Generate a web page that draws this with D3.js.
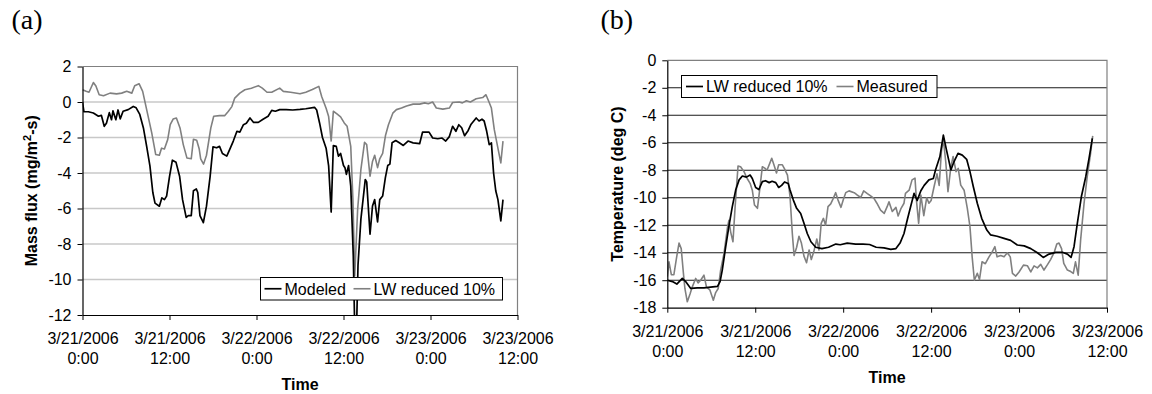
<!DOCTYPE html>
<html>
<head>
<meta charset="utf-8">
<script src="https://cdn.jsdelivr.net/npm/d3@7"></script>
<style>
  body { margin: 0; background: #fff; }
  svg { display: block; }
</style>
</head>
<body>
<svg id="chart" width="1152" height="394" font-family='"Liberation Sans", Arial, sans-serif'></svg>
<script>
// ---------- DATA ----------
// Hours since 3/21/2006 0:00
const tickHours = [0, 12, 24, 36, 48, 60];
const tickLabels = [
  ["3/21/2006", "0:00"], ["3/21/2006", "12:00"], ["3/22/2006", "0:00"],
  ["3/22/2006", "12:00"], ["3/23/2006", "0:00"], ["3/23/2006", "12:00"]
];
const fluxTicks = [-12, -10, -8, -6, -4, -2, 0, 2];
const tempTicks = [-18, -16, -14, -12, -10, -8, -6, -4, -2, 0];

// (a) Mass flux (mg/m2-s) — Modeled: [hour, value]
const modeledFlux = [[0,0],[0.2,-0.55],[0.8,-0.55],[1.5,-0.62],[2.2,-0.8],[2.6,-0.75],[3.0,-1.37],[3.3,-1.2],[3.7,-0.6],[4.0,-1.0],[4.2,-0.5],[4.6,-1.0],[4.9,-0.45],[5.2,-0.95],[5.6,-0.52],[6.3,-0.43],[7.0,-0.25],[7.4,-0.33],[7.9,-0.7],[8.4,-1.46],[8.85,-2.5],[9.3,-3.6],[9.7,-5.1],[10.0,-5.7],[10.6,-5.87],[10.95,-5.4],[11.3,-5.5],[11.6,-5.3],[12.0,-4.2],[12.4,-3.28],[12.9,-3.4],[13.4,-4.2],[13.8,-5.5],[14.3,-6.5],[14.6,-6.4],[15.0,-6.4],[15.3,-5.0],[15.7,-4.9],[15.9,-5.1],[16.2,-6.4],[16.67,-6.8],[17.1,-5.87],[17.6,-4.2],[18.0,-2.53],[18.5,-2.58],[18.9,-2.5],[19.3,-2.9],[19.9,-3.05],[20.4,-2.58],[20.8,-2.2],[21.3,-1.65],[21.7,-1.7],[22.2,-1.28],[22.6,-1.2],[23.1,-0.9],[23.6,-1.15],[24.25,-1.15],[24.9,-0.97],[25.6,-0.8],[26.1,-0.47],[26.6,-0.52],[27.2,-0.43],[28.1,-0.43],[29.0,-0.45],[30.0,-0.42],[30.8,-0.38],[32.0,-0.3],[32.3,-0.45],[32.7,-1.18],[33.1,-2.0],[33.6,-2.6],[33.95,-3.6],[34.3,-6.2],[34.6,-2.45],[35.0,-2.5],[35.3,-3.05],[35.6,-2.9],[36.0,-3.58],[36.2,-3.7],[36.4,-4.08],[36.7,-3.58],[37.0,-4.74],[37.35,-8.67],[37.55,-12.8],[37.8,-12.8],[38.0,-9.2],[38.4,-6.6],[39.0,-4.37],[39.2,-4.5],[39.66,-7.45],[40.0,-5.86],[40.3,-5.5],[40.7,-6.76],[41.0,-5.5],[41.4,-5.3],[41.77,-4.27],[42.1,-3.58],[42.4,-3.5],[42.7,-2.3],[43.2,-2.17],[43.7,-2.3],[44.25,-2.45],[44.9,-2.2],[45.6,-2.3],[46.5,-2.35],[46.9,-1.7],[47.8,-1.7],[48.3,-2.03],[49.0,-2.07],[49.6,-2.03],[50.1,-2.2],[50.6,-1.95],[51.05,-1.37],[51.5,-1.65],[51.9,-1.28],[52.3,-1.45],[52.7,-1.9],[53.2,-1.6],[53.6,-1.25],[54.3,-0.9],[54.7,-1.07],[55.1,-0.97],[55.4,-1.07],[55.75,-1.65],[56.1,-2.4],[56.4,-2.3],[56.7,-4.0],[57.0,-5.0],[57.3,-5.5],[57.7,-6.7],[58.0,-5.5]];

// (a) LW reduced 10%
const lwReducedFlux = [[0,0.69],[0.5,0.6],[0.9,0.55],[1.5,1.1],[1.85,0.9],[2.3,0.41],[2.9,0.35],[3.8,0.5],[4.7,0.46],[5.4,0.5],[6.1,0.6],[6.8,0.5],[7.2,0.92],[7.8,1.03],[8.3,0.6],[8.85,-0.43],[9.55,-1.74],[10.1,-2.96],[10.6,-3.0],[10.9,-2.6],[11.3,-2.65],[11.75,-2.12],[12.1,-1.28],[12.5,-0.96],[12.95,-0.9],[13.45,-1.46],[13.9,-2.4],[14.4,-3.15],[15.0,-3.2],[15.3,-2.1],[15.75,-2.15],[16.1,-2.65],[16.3,-3.2],[16.7,-3.5],[17.1,-3.0],[17.7,-1.46],[18.1,-0.8],[18.9,-0.77],[19.6,-0.77],[20.1,-0.53],[20.6,-0.26],[21.0,0.22],[21.7,0.5],[22.4,0.69],[23.3,0.78],[24.25,0.92],[24.8,0.78],[25.45,0.55],[26.1,0.55],[27.2,0.78],[27.7,0.6],[28.7,0.55],[30.0,0.46],[30.8,0.55],[31.7,0.7],[32.6,0.88],[33.0,0.3],[33.6,-0.35],[33.95,-0.82],[34.3,-2.2],[34.6,-0.52],[35.05,-0.65],[35.6,-0.84],[36.1,-1.18],[36.5,-1.37],[37.0,-2.5],[37.3,-5.5],[37.55,-9.8],[37.95,-6.05],[38.4,-3.8],[38.9,-2.27],[39.2,-2.4],[39.66,-4.18],[40.0,-3.35],[40.3,-3.0],[40.7,-3.7],[41.0,-3.2],[41.4,-2.9],[41.8,-1.87],[42.2,-1.28],[42.8,-0.63],[43.3,-0.43],[44.0,-0.34],[44.7,-0.22],[45.6,-0.12],[46.5,-0.12],[47.2,-0.05],[47.7,-0.1],[48.3,0.0],[48.8,-0.34],[49.7,-0.4],[50.6,-0.34],[51.05,-0.03],[51.95,0.0],[52.4,-0.05],[52.95,0.07],[53.5,0.0],[54.3,0.18],[55.2,0.25],[55.65,0.41],[56.0,0.07],[56.4,-0.34],[56.8,-1.56],[57.25,-2.5],[57.7,-3.43],[58.0,-2.2]];

// (b) Temperature (deg C) — LW reduced 10%
const lwReducedTemp = [[0,-16.0],[0.7,-16.1],[1.3,-16.28],[2.05,-15.87],[2.5,-16.1],[3.2,-16.6],[4.1,-16.56],[5.0,-16.56],[5.9,-16.5],[6.85,-16.45],[7.2,-16.1],[7.5,-15.26],[7.97,-13.56],[8.4,-12.1],[8.87,-10.65],[9.33,-9.44],[9.8,-8.7],[10.24,-8.42],[10.8,-8.5],[11.3,-8.35],[11.6,-8.6],[12.06,-9.25],[12.5,-9.4],[12.97,-8.83],[13.4,-8.76],[13.9,-8.9],[14.3,-8.8],[14.8,-8.9],[15.2,-9.25],[15.6,-9.1],[16.0,-8.85],[16.5,-8.97],[16.75,-9.44],[17.2,-10.17],[17.65,-10.77],[18.2,-11.14],[18.65,-11.86],[19.1,-12.6],[19.6,-13.2],[20.25,-13.6],[21.1,-13.7],[22.0,-13.6],[23.0,-13.37],[23.6,-13.42],[24.55,-13.3],[25.7,-13.37],[26.7,-13.38],[27.6,-13.4],[28.5,-13.6],[29.57,-13.65],[30.5,-13.76],[31.2,-13.7],[31.76,-13.3],[32.3,-12.6],[32.75,-11.6],[33.2,-10.65],[33.67,-9.68],[34.1,-10.2],[34.6,-9.49],[35.05,-9.1],[35.7,-8.7],[36.3,-8.6],[36.6,-7.98],[37.2,-7.0],[37.67,-5.44],[38.1,-6.53],[38.7,-7.98],[39.1,-7.4],[39.67,-6.77],[40.25,-6.9],[40.85,-7.2],[41.3,-8.1],[41.76,-9.2],[42.3,-10.4],[42.9,-11.5],[43.6,-12.35],[44.1,-12.7],[45.0,-12.8],[45.95,-12.96],[46.85,-13.1],[47.76,-13.44],[48.7,-13.5],[49.6,-13.7],[50.5,-14.0],[51.3,-14.34],[52.1,-14.1],[53.0,-13.97],[53.9,-13.97],[54.6,-14.1],[55.1,-14.34],[55.5,-13.56],[55.95,-11.86],[56.5,-9.93],[57.1,-8.47],[57.55,-7.13],[58.0,-5.68]];

// (b) Measured
const measuredTemp = [[0,-15.75],[0.23,-14.66],[0.55,-15.6],[0.9,-15.6],[1.28,-14.3],[1.6,-13.3],[1.9,-13.7],[2.2,-15.5],[2.4,-16.6],[2.73,-17.57],[3.1,-17.0],[3.4,-16.5],[3.87,-15.87],[4.2,-16.2],[4.55,-16.0],[5.0,-15.63],[5.35,-16.5],[5.8,-16.7],[6.28,-17.45],[6.6,-16.9],[6.95,-16.6],[7.28,-15.26],[7.74,-14.05],[8.2,-12.2],[8.4,-11.65],[8.65,-12.5],[8.96,-13.2],[9.25,-10.7],[9.65,-7.7],[10.0,-7.75],[10.47,-8.1],[10.9,-8.6],[11.3,-8.95],[11.6,-9.45],[11.9,-10.53],[12.3,-10.77],[12.6,-9.45],[12.97,-7.74],[13.3,-7.85],[13.6,-8.0],[13.98,-7.5],[14.25,-7.13],[14.55,-7.6],[14.9,-8.2],[15.2,-7.6],[15.7,-7.6],[16.0,-7.9],[16.4,-8.35],[16.75,-9.93],[17.06,-12.6],[17.3,-14.2],[17.65,-13.6],[17.97,-12.8],[18.3,-13.3],[18.65,-14.25],[19.0,-14.73],[19.35,-13.8],[19.65,-14.5],[20.0,-13.9],[20.4,-13.0],[20.7,-13.8],[21.0,-11.86],[21.3,-11.5],[21.6,-12.0],[21.93,-10.65],[22.3,-10.45],[22.65,-10.05],[22.98,-9.63],[23.3,-10.17],[23.7,-10.7],[24.0,-10.17],[24.35,-9.63],[24.8,-9.5],[25.5,-9.63],[25.9,-9.8],[26.4,-9.97],[26.8,-9.5],[27.3,-9.7],[27.7,-9.85],[28.2,-10.05],[28.6,-10.4],[29.1,-10.9],[29.6,-11.14],[30.0,-10.65],[30.25,-10.3],[30.7,-11.0],[31.2,-10.7],[31.5,-11.33],[31.9,-10.77],[32.3,-10.4],[32.5,-9.68],[33.0,-9.45],[33.4,-8.7],[33.8,-8.57],[34.0,-10.2],[34.3,-11.86],[34.6,-9.8],[35.0,-11.3],[35.4,-10.0],[35.7,-10.4],[36.0,-10.2],[36.4,-9.2],[36.8,-8.26],[37.1,-9.1],[37.4,-6.65],[37.67,-5.75],[38.0,-7.4],[38.3,-9.56],[38.7,-7.74],[39.0,-7.0],[39.4,-8.1],[39.7,-7.86],[40.04,-9.08],[40.5,-9.45],[40.94,-10.77],[41.3,-12.1],[41.6,-14.3],[41.9,-16.0],[42.3,-15.5],[42.6,-15.95],[42.95,-14.66],[43.4,-14.8],[43.9,-14.3],[44.3,-13.97],[44.7,-13.56],[45.0,-14.3],[45.5,-14.2],[45.95,-14.3],[46.4,-14.0],[46.8,-14.3],[47.1,-15.5],[47.55,-15.7],[48.0,-15.4],[48.6,-14.9],[49.15,-14.95],[49.6,-15.4],[50.05,-14.96],[50.5,-15.1],[50.96,-14.85],[51.4,-15.26],[51.9,-14.85],[52.3,-14.5],[52.8,-13.97],[53.15,-13.37],[53.45,-13.3],[53.8,-13.7],[54.1,-14.78],[54.6,-15.26],[55.05,-15.37],[55.4,-15.5],[55.7,-14.66],[56.07,-15.63],[56.4,-13.08],[56.87,-10.4],[57.3,-8.47],[57.75,-6.8],[58.05,-5.5]];

// ---------- DRAW ----------
const svg = d3.select("#chart");
const BLACK = "#000000", GREY = "#808080";
const SANS = '"Liberation Sans", Arial, sans-serif';
const SERIF = '"Liberation Serif", "Times New Roman", serif';

function panel(cfg) {
  const x = d3.scaleLinear().domain([0, 60]).range([cfg.left, cfg.right]);
  const y = d3.scaleLinear().domain(cfg.yDomain).range([cfg.bottom, cfg.top]);
  const g = svg.append("g");

  // gridlines
  g.append("g").selectAll("line")
    .data(cfg.yTicks.filter(v => v !== cfg.yDomain[0] && v !== cfg.yDomain[1]))
    .join("line")
    .attr("x1", cfg.left).attr("x2", cfg.right)
    .attr("y1", d => y(d)).attr("y2", d => y(d))
    .attr("stroke", cfg.gridColor).attr("stroke-width", cfg.gridWidth);

  // plot border (top & right)
  g.append("path")
    .attr("d", `M${cfg.left},${y(cfg.yDomain[1])}H${cfg.right}V${cfg.bottom}`)
    .attr("fill", "none").attr("stroke", cfg.borderColor).attr("stroke-width", 1.2);

  // clip
  const clipId = "clip-" + cfg.id;
  svg.append("defs").append("clipPath").attr("id", clipId)
    .append("rect").attr("x", cfg.left).attr("y", cfg.top)
    .attr("width", cfg.right - cfg.left).attr("height", cfg.bottom - cfg.top);

  const line = d3.line().x(d => x(d[0])).y(d => y(d[1]));
  const lines = g.append("g").attr("clip-path", `url(#${clipId})`);
  cfg.series.forEach(s => {
    lines.append("path").datum(s.data)
      .attr("d", line).attr("fill", "none")
      .attr("stroke", s.color).attr("stroke-width", s.width)
      .attr("stroke-linejoin", "round");
  });

  // y axis
  const ya = g.append("g").attr("transform", `translate(${cfg.left},0)`)
    .call(d3.axisLeft(y).tickValues(cfg.yTicks).tickSize(5).tickSizeOuter(0).tickPadding(6)
      .tickFormat(d3.format("d")));
  ya.attr("font-family", SANS).attr("font-size", 16);
  ya.selectAll("text").attr("fill", "#000")
    .text(d => d < 0 ? "-" + Math.abs(d) : d);
  ya.selectAll("line").attr("stroke", "#000");
  ya.select(".domain").attr("stroke", "#000").attr("stroke-width", 1.2);

  // x axis
  const xa = g.append("g").attr("transform", `translate(0,${cfg.bottom})`)
    .call(d3.axisBottom(x).tickValues(tickHours).tickSize(5).tickSizeOuter(0).tickFormat(""));
  xa.attr("font-family", SANS).attr("font-size", 16);
  xa.selectAll("line").attr("stroke", "#000");
  xa.select(".domain").attr("stroke", "#000").attr("stroke-width", 1.2);
  xa.selectAll(".tick").each(function(d, i) {
    const t = d3.select(this).select("text")
      .attr("fill", "#000").attr("text-anchor", "middle")
      .attr("y", 0).attr("dy", null);
    t.append("tspan").attr("x", 0).attr("y", cfg.tickLine1).text(tickLabels[i][0]);
    t.append("tspan").attr("x", 0).attr("y", cfg.tickLine1 + 20).text(tickLabels[i][1]);
  });

  // axis titles
  g.append("text").attr("x", (cfg.left + cfg.right) / 2).attr("y", cfg.timeY)
    .attr("text-anchor", "middle").attr("font-weight", "bold").attr("font-size", 16)
    .text("Time");
  const yl = g.append("text")
    .attr("transform", `translate(${cfg.yLabelX},${(cfg.top + cfg.bottom) / 2}) rotate(-90)`)
    .attr("text-anchor", "middle").attr("font-weight", "bold").attr("font-size", 16);
  cfg.yLabel(yl);

  // panel letter
  g.append("text").attr("x", cfg.letterX).attr("y", 29)
    .style("font-family", SERIF)
    .attr("font-size", 28).text(cfg.letter);

  // legend
  const L = cfg.legend;
  const lg = g.append("g");
  lg.append("rect").attr("x", L.x).attr("y", L.y).attr("width", L.w).attr("height", L.h)
    .attr("fill", "#fff").attr("stroke", "#000").attr("stroke-width", 1);
  const my = L.y + L.h / 2;
  L.items.forEach(it => {
    lg.append("line").attr("x1", it.sx).attr("x2", it.sx + 17).attr("y1", my).attr("y2", my)
      .attr("stroke", it.color).attr("stroke-width", it.width);
    lg.append("text").attr("x", it.sx + 20).attr("y", my + 5.8).attr("font-size", 16).text(it.label);
  });
}

panel({
  id: "a", left: 82.5, right: 517.5, top: 66.5, bottom: 315,
  yDomain: [-12, 2], yTicks: fluxTicks,
  gridColor: "#c8c8c8", gridWidth: 1.4, borderColor: GREY,
  series: [
    { data: lwReducedFlux, color: GREY, width: 1.6 },
    { data: modeledFlux, color: BLACK, width: 1.7 }
  ],
  tickLine1: 28.5, timeY: 390, yLabelX: 36.5,
  yLabel: t => {
    t.append("tspan").text("Mass flux (mg/m");
    t.append("tspan").attr("font-size", 11).attr("dy", -6).text("2");
    t.append("tspan").attr("dy", 6).text("-s)");
  },
  letter: "(a)", letterX: 11.5,
  legend: { x: 260.5, y: 277.5, w: 242, h: 22.5, items: [
    { sx: 264.5, color: BLACK, width: 1.7, label: "Modeled" },
    { sx: 353.5, color: GREY, width: 1.6, label: "LW reduced 10%" }
  ]}
});

panel({
  id: "b", left: 667.3, right: 1107, top: 60.3, bottom: 307.7,
  yDomain: [-18, 0], yTicks: tempTicks,
  gridColor: "#1a1a1a", gridWidth: 1.1, borderColor: GREY,
  series: [
    { data: measuredTemp, color: GREY, width: 1.6 },
    { data: lwReducedTemp, color: BLACK, width: 1.7 }
  ],
  tickLine1: 29, timeY: 382.5, yLabelX: 623,
  yLabel: t => t.text("Temperature (deg C)"),
  letter: "(b)", letterX: 600.5,
  legend: { x: 681.5, y: 75.5, w: 255.5, h: 22, items: [
    { sx: 686, color: BLACK, width: 1.7, label: "LW reduced 10%" },
    { sx: 836.5, color: GREY, width: 1.6, label: "Measured" }
  ]}
});
</script>
</body>
</html>
